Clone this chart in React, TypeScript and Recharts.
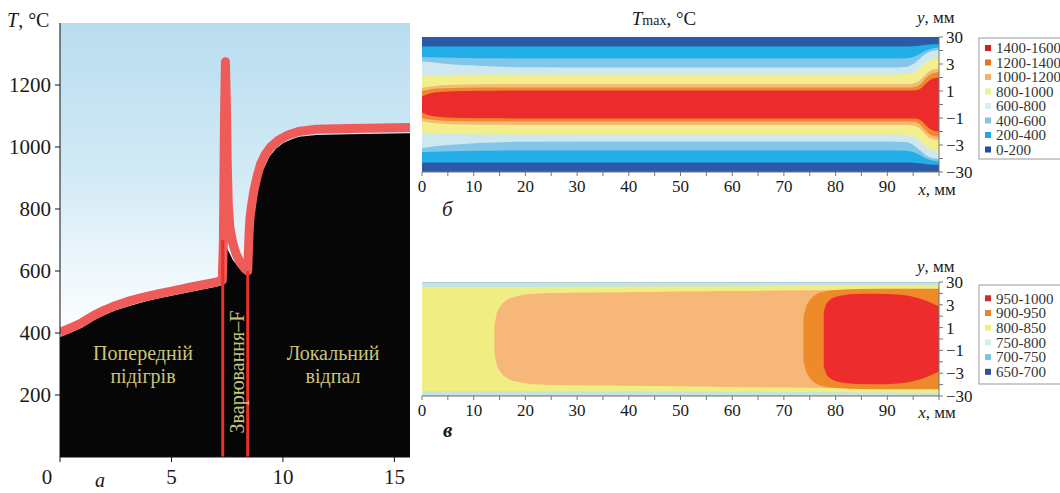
import React from 'react';
import { ComposedChart, Area, Line, XAxis, YAxis, ReferenceLine, CartesianGrid } from 'recharts';

const SERIF = '"Liberation Serif", "Times New Roman", "DejaVu Serif", serif';
const TEXT = '#1a1a1a';
const KHAKI = '#c9c47c';

// ---------- panel а : T(t) ----------
const heatX = [0, 0.5, 1, 1.5, 2, 2.5, 3, 3.5, 4, 4.5, 5, 6, 7, 7.3, 7.3, 7.46, 7.76, 8.06, 8.36, 8.5, 8.5, 8.58, 8.66, 8.81, 8.96, 9.18, 9.4, 9.7, 10, 10.4, 10.74, 11.5, 13, 15.7];
const heatT = [387, 402, 418, 440, 458, 473, 485, 495, 505, 513, 520, 535, 549, 555, 700, 678, 635, 609, 593, 592, 722, 764, 807, 850, 904, 936, 969, 995, 1012, 1025, 1033, 1039, 1041, 1044];
const redX = [0, 0.5, 1, 1.5, 2, 2.5, 3, 3.5, 4, 4.5, 5, 6, 7, 7.28, 7.33, 7.38, 7.42, 7.46, 7.5, 7.55, 7.62, 7.75, 7.9, 8.1, 8.3, 8.42, 8.45, 8.48, 8.52, 8.6, 8.7, 8.84, 9.0, 9.2, 9.45, 9.8, 10.2, 10.7, 11.5, 13, 15.7];
const redT = [402, 417, 434, 456, 474, 489, 501, 511, 520, 528, 535, 550, 564, 570, 700, 1100, 1275, 1150, 950, 810, 740, 690, 655, 625, 607, 600, 660, 720, 770, 815, 860, 905, 945, 975, 1000, 1022, 1038, 1050, 1057, 1060, 1063];
const weldLines = [
  { x: 7.3, top: 700 },
  { x: 8.42, top: 600 },
];
const aXTicks = [0, 5, 10, 15];
const aTopTicks = [0.3, 1.8, 3.3, 4.8, 6.3, 7.8, 9.3, 10.8, 12.3, 13.8, 15.3];
const aYTicks = [200, 400, 600, 800, 1000, 1200];

// ---------- shared y-axis of maps ----------
const yTickPos = [-2.5, -2, -1.5, -1, -0.5, 0, 0.5, 1, 1.5, 2, 2.5];
const yTickText = ['−30', '', '−3', '', '−1', '', '1', '', '3', '', '30'];
const mapXTicks = [0, 5, 10, 15, 20, 25, 30, 35, 40, 45, 50, 55, 60, 65, 70, 75, 80, 85, 90, 95, 100];

// ---------- panel б : Tmax ----------
const bX = [0, 1.5, 4, 8, 14, 20, 40, 70, 90, 93.5, 95, 96.2, 97.2, 98.2, 99.2, 100];
const b200 = [2.15, 2.15, 2.15, 2.15, 2.15, 2.15, 2.15, 2.15, 2.15, 2.15, 2.16, 2.18, 2.2, 2.22, 2.23, 2.23];
const b400 = [1.76, 1.75, 1.74, 1.72, 1.71, 1.7, 1.7, 1.7, 1.7, 1.71, 1.76, 1.86, 1.97, 2.05, 2.09, 2.1];
const b600 = [1.6, 1.57, 1.52, 1.46, 1.41, 1.38, 1.37, 1.37, 1.37, 1.39, 1.5, 1.68, 1.84, 1.95, 2.0, 2.02];
const b800 = [1.04, 1.06, 1.08, 1.1, 1.11, 1.11, 1.11, 1.11, 1.11, 1.12, 1.18, 1.34, 1.52, 1.65, 1.71, 1.72];
const b1000 = [0.62, 0.67, 0.71, 0.74, 0.75, 0.76, 0.76, 0.76, 0.76, 0.76, 0.78, 0.88, 1.07, 1.24, 1.31, 1.32];
const b1200 = [0.5, 0.56, 0.6, 0.62, 0.63, 0.63, 0.63, 0.63, 0.63, 0.63, 0.64, 0.72, 0.92, 1.1, 1.18, 1.2];
const b1400 = [0.3, 0.41, 0.47, 0.5, 0.51, 0.52, 0.52, 0.52, 0.52, 0.52, 0.52, 0.56, 0.72, 0.9, 0.98, 1.0];
const bLevels = ['1400-1600', '1200-1400', '1000-1200', '800-1000', '600-800', '400-600', '200-400', '0-200'];
const bColors = ['#ec2c2c', '#ee8a2e', '#f6b97a', '#f3ef8c', '#cfe7ef', '#82c6ea', '#22aee6', '#2c5aa8'];
const bMarkers = ['#cf2228', '#e2761f', '#f0b26e', '#efef9a', '#d6edf4', '#86c3e4', '#1ea9e0', '#20509e'];

// ---------- panel в ----------
const c800X = [0, 50, 100];
const c800 = [2.28, 2.3, 2.36];
const c850X = [14.0, 14.4, 15.2, 16.5, 18.5, 21, 26, 40, 60, 75, 100];
const c850 = [0.55, 1.05, 1.45, 1.72, 1.88, 1.97, 2.02, 2.05, 2.1, 2.14, 2.18];
const c900X = [73.8, 74.2, 75, 76.2, 77.8, 80, 85, 92, 100];
const c900 = [0.95, 1.35, 1.7, 1.95, 2.08, 2.15, 2.19, 2.2, 2.2];
const c950X = [77.7, 78.1, 78.8, 79.8, 81.5, 84, 88, 92, 95, 97.5, 100];
const c950 = [1.18, 1.48, 1.7, 1.83, 1.92, 1.97, 1.99, 1.95, 1.85, 1.68, 1.43];
const cLevels = ['950-1000', '900-950', '800-850', '750-800', '700-750', '650-700'];
const cColors = ['#ed2d2d', '#ef8a2b', '#f6b779', '#f0ed82', '#c5e5e3'];
const cMarkers = ['#d42a2a', '#e8842a', '#eeee8a', '#d2edf0', '#82c0e4', '#2a50a0'];

// ---------- data tables ----------
const heatData = heatX.map((x, i) => ({ x, t: heatT[i] }));
const redData = redX.map((x, i) => ({ x, t: redT[i] }));
const band = (h: number) => [-h, h];
const bRows = bX.map((x, i) => ({
  x,
  l0: band(2.5),
  l200: band(b200[i]),
  l400: band(b400[i]),
  l600: band(b600[i]),
  l800: band(b800[i]),
  l1000: band(b1000[i]),
  l1200: band(b1200[i]),
  l1400: band(b1400[i]),
}));
const bKeys = ['l0', 'l200', 'l400', 'l600', 'l800', 'l1000', 'l1200', 'l1400'];
const bFill = [bColors[7], bColors[6], bColors[5], bColors[4], bColors[3], bColors[2], bColors[1], bColors[0]];
const rows = (xs: number[], hs: number[]) => xs.map((x, i) => ({ x, r: band(hs[i]) }));
const cBase = rows([0, 100], [2.5, 2.5]);
const cLayers = [
  { data: rows(c800X, c800), fill: cColors[3] },
  { data: rows(c850X, c850), fill: cColors[2] },
  { data: rows(c900X, c900), fill: cColors[1] },
  { data: rows(c950X, c950), fill: cColors[0] },
];

function ATickX(props: any) {
  const { x, y, payload } = props;
  const shift = payload.value === 0 ? -13 : 0;
  return (
    <text x={x + shift} y={y} dy="0.71em" textAnchor="middle" fontSize={21} fontFamily={SERIF} fill={TEXT}>
      {payload.value}
    </text>
  );
}

const mapTickFmt = (v: number) => (v % 10 === 0 && v < 100 ? String(v) : '');
const mapYFmt = (v: number) => {
  const i = yTickPos.indexOf(v);
  return i >= 0 ? yTickText[i] : '';
};

function PanelA() {
  return (
    <ComposedChart width={430} height={493} margin={{ top: 23, right: 20, left: 0, bottom: 6 }}>
      <defs>
        <linearGradient id="sky" x1="0" y1="0" x2="0" y2="1">
          <stop offset="0" stopColor="#b9ddf0" />
          <stop offset="0.35" stopColor="#d2eaf5" />
          <stop offset="0.55" stopColor="#ebf6fb" />
          <stop offset="0.7" stopColor="#fbfeff" />
          <stop offset="1" stopColor="#ffffff" />
        </linearGradient>
      </defs>
      <CartesianGrid fill="url(#sky)" fillOpacity={1} horizontal={false} vertical={false} />
      <XAxis
        dataKey="x"
        type="number"
        domain={[0, 15.7]}
        ticks={aXTicks}
        allowDataOverflow
        height={30}
        tickSize={5}
        tickMargin={7}
        stroke="#111"
        tick={<ATickX />}
      />
      <XAxis
        xAxisId="top"
        orientation="top"
        type="number"
        domain={[0, 15.7]}
        ticks={aTopTicks}
        allowDataOverflow
        height={0}
        tickSize={3}
        mirror
        tickFormatter={() => ''}
        stroke="#222"
      />
      <YAxis
        type="number"
        domain={[0, 1400]}
        ticks={aYTicks}
        allowDataOverflow
        width={60}
        tickSize={5}
        tickMargin={4}
        stroke="#111"
        tick={{ fill: TEXT, fontSize: 21, fontFamily: SERIF }}
      />
      <YAxis yAxisId="right" orientation="right" width={0} tick={false} tickLine={false} stroke="#222" />
      <Area
        data={heatData}
        dataKey="t"
        type="linear"
        fill="#060606"
        fillOpacity={1}
        stroke="none"
        isAnimationActive={false}
      />
      <Line
        data={redData}
        dataKey="t"
        type="linear"
        stroke="#ef5b58"
        strokeWidth={9}
        strokeLinejoin="round"
        dot={false}
        isAnimationActive={false}
      />
      {weldLines.map((w) => (
        <ReferenceLine
          key={w.x}
          segment={[
            { x: w.x, y: 0 },
            { x: w.x, y: w.top },
          ]}
          stroke="#e8302c"
          strokeWidth={3}
        />
      ))}
    </ComposedChart>
  );
}

function MapChart(props: { children: React.ReactNode; height: number; mTop: number; mBottom: number }) {
  return (
    <ComposedChart width={600} height={props.height} margin={{ top: props.mTop, right: 21, left: 22, bottom: props.mBottom }}>
      <XAxis
        dataKey="x"
        type="number"
        domain={[0, 100]}
        ticks={mapXTicks}
        allowDataOverflow
        height={30}
        tickSize={4}
        tickMargin={4}
        stroke="#777"
        tickFormatter={mapTickFmt}
        tick={{ fill: TEXT, fontSize: 17, fontFamily: SERIF }}
        interval={0}
      />
      <YAxis
        orientation="right"
        type="number"
        domain={[-2.5, 2.5]}
        ticks={yTickPos}
        allowDataOverflow
        width={40}
        tickSize={4}
        tickMargin={3}
        stroke="#777"
        tickFormatter={mapYFmt}
        tick={{ fill: TEXT, fontSize: 17, fontFamily: SERIF }}
        interval={0}
      />
      {props.children}
    </ComposedChart>
  );
}

function PanelB() {
  return (
    <MapChart height={220} mTop={37} mBottom={18}>
      {bKeys.map((k, i) => (
        <Area
          key={k}
          data={bRows}
          dataKey={k}
          type="monotone"
          fill={bFill[i]}
          fillOpacity={1}
          stroke="none"
          isAnimationActive={false}
        />
      ))}
    </MapChart>
  );
}

function PanelC() {
  return (
    <MapChart height={220} mTop={42} mBottom={34}>
      <Area data={cBase} dataKey="r" type="linear" fill={cColors[4]} fillOpacity={1} stroke="#8fb4c2" strokeWidth={1} isAnimationActive={false} />
      {cLayers.map((l, i) => (
        <Area
          key={i}
          data={l.data}
          dataKey="r"
          type="monotone"
          fill={l.fill}
          fillOpacity={1}
          stroke="none"
          isAnimationActive={false}
        />
      ))}
    </MapChart>
  );
}

function LegendBox(props: { x: number; y: number; h: number; rowY: number; step: number; labels: string[]; colors: string[] }) {
  const { x, y, h, rowY, step, labels, colors } = props;
  return (
    <g>
      <rect x={x} y={y} width={100} height={h} fill="#fff" stroke="#9a9a9a" strokeWidth={1} />
      {labels.map((l, i) => (
        <g key={l}>
          <rect x={x + 6} y={rowY + i * step - 3} width={6} height={6} fill={colors[i]} />
          <text x={x + 17} y={rowY + i * step} dy="0.35em" fontSize={15} fontFamily={SERIF} fill="#333">
            {l}
          </text>
        </g>
      ))}
    </g>
  );
}

function Overlay() {
  return (
    <svg width={1060} height={493} style={{ position: 'absolute', left: 0, top: 0, pointerEvents: 'none' }}>
      {/* panel а */}
      <text x={7} y={27} fontSize={20} fontFamily={SERIF} fill={TEXT}>
        <tspan fontStyle="italic">T</tspan>, °C
      </text>
      <text x={100} y={487} fontSize={20} fontStyle="italic" fontFamily={SERIF} fill={TEXT} textAnchor="middle">
        а
      </text>
      <g fontFamily={SERIF} fontSize={20} fill={KHAKI} textAnchor="middle">
        <text x={143} y={360}>Попередній</text>
        <text x={143} y={383}>підігрів</text>
        <text x={333} y={360}>Локальний</text>
        <text x={333} y={383}>відпал</text>
      </g>
      <text
        x={0}
        y={0}
        transform="translate(237,372) rotate(-90)"
        textAnchor="middle"
        dominantBaseline="central"
        fontFamily={SERIF}
        fontSize={20}
        fill={KHAKI}
      >
        Зварювання–F
      </text>

      {/* panel б */}
      <text x={664} y={25} textAnchor="middle" fontFamily={SERIF} fontSize={19} fill={TEXT}>
        <tspan fontStyle="italic">T</tspan>
        <tspan fontSize={14}>max</tspan>, °C
      </text>
      <text x={917} y={23} fontFamily={SERIF} fontSize={17} fill={TEXT}>
        <tspan fontStyle="italic">y</tspan>, мм
      </text>
      <text x={937} y={195} textAnchor="middle" fontFamily={SERIF} fontSize={17} fill={TEXT}>
        <tspan fontStyle="italic">x</tspan>, мм
      </text>
      <text x={442} y={216} fontFamily={SERIF} fontSize={21} fontStyle="italic" fill={TEXT}>
        б
      </text>
      <LegendBox x={979} y={38} h={121} rowY={48} step={14.5} labels={bLevels} colors={bMarkers} />

      {/* panel в */}
      <text x={917} y={272} fontFamily={SERIF} fontSize={17} fill={TEXT}>
        <tspan fontStyle="italic">y</tspan>, мм
      </text>
      <text x={937} y={418} textAnchor="middle" fontFamily={SERIF} fontSize={17} fill={TEXT}>
        <tspan fontStyle="italic">x</tspan>, мм
      </text>
      <text x={443} y={437} fontFamily={SERIF} fontSize={21} fontStyle="italic" fontWeight="bold" fill={TEXT}>
        в
      </text>
      <LegendBox x={979} y={285} h={99} rowY={298.3} step={14.7} labels={cLevels} colors={cMarkers} />
    </svg>
  );
}

export default function App() {
  return (
    <div style={{ position: 'absolute', left: 0, top: 0, width: 1060, height: 493, background: '#fff', overflow: 'hidden' }}>
      <div style={{ position: 'absolute', left: 0, top: 0 }}>
        <PanelA />
      </div>
      <div style={{ position: 'absolute', left: 400, top: 0 }}>
        <PanelB />
      </div>
      <div style={{ position: 'absolute', left: 400, top: 240 }}>
        <PanelC />
      </div>
      <Overlay />
    </div>
  );
}
